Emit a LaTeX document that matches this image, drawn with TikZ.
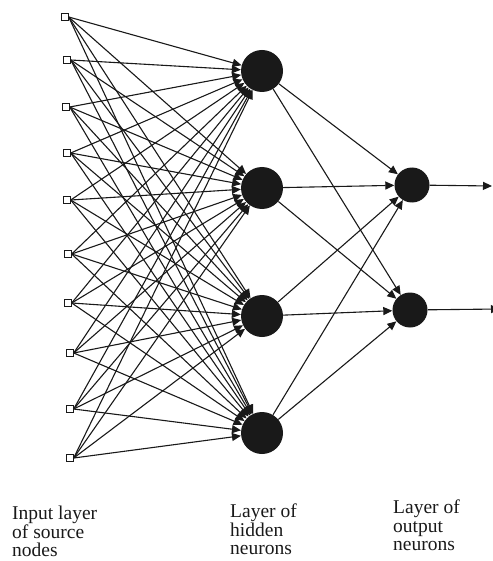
\documentclass[tikz,border=0pt]{standalone}
\usepackage{fontspec}
\setmainfont{Liberation Serif}
\usetikzlibrary{arrows.meta}
\begin{document}
\begin{tikzpicture}[x=1pt,y=-1pt,
  link/.style={line width=1.1pt,draw=black!90,-{Triangle[length=9pt,width=8pt]}},
  source/.style={draw=black!90,line width=0.9pt,fill=white,minimum width=6.5pt,minimum height=7.5pt,inner sep=0pt},
  hidden/.style={circle,fill=black!90,minimum size=42pt,inner sep=0pt},
  outneuron/.style={circle,fill=black!90,minimum size=35pt,inner sep=0pt},
  caption/.style={anchor=north west,align=left,inner sep=0pt,font=\fontsize{19.5pt}{18.5pt}\selectfont,text=black!90}]
\useasboundingbox (0,0) rectangle (492,561);

% hidden layer
\node[hidden] (h1) at (262,71) {};
\node[hidden] (h2) at (262,188) {};
\node[hidden] (h3) at (262,316) {};
\node[hidden] (h4) at (262,433) {};

% output layer
\node[outneuron] (o1) at (412,185) {};
\node[outneuron] (o2) at (410,310) {};

% input layer of source nodes, fully connected to the hidden layer
\foreach \i/\x/\y in {1/65/17,2/67/60,3/66/107,4/67/153,5/67/200,6/68/254,7/68/303,8/70/353,9/70/409,10/70/458}{
  \node[source] (s\i) at (\x,\y) {};
}
\foreach \i in {1,...,10}{
  \foreach \j in {1,...,4}{
    \draw[link] (s\i.east) -- (h\j);
  }
}

% hidden to output
\foreach \j in {1,...,4}{
  \draw[link] (h\j) -- (o1);
  \draw[link] (h\j) -- (o2);
}

% network outputs
\coordinate (y1) at (492,186);
\coordinate (y2) at (500,309);
\draw[link] (o1) -- (y1);
\draw[link] (o2) -- (y2);

% layer captions
\node[caption] (c1) at (12,506) {Input layer\\of source\\nodes};
\node[caption] (c2) at (230,504) {Layer of\\hidden\\neurons};
\node[caption] (c3) at (393,500) {Layer of\\output\\neurons};
\end{tikzpicture}
\end{document}
